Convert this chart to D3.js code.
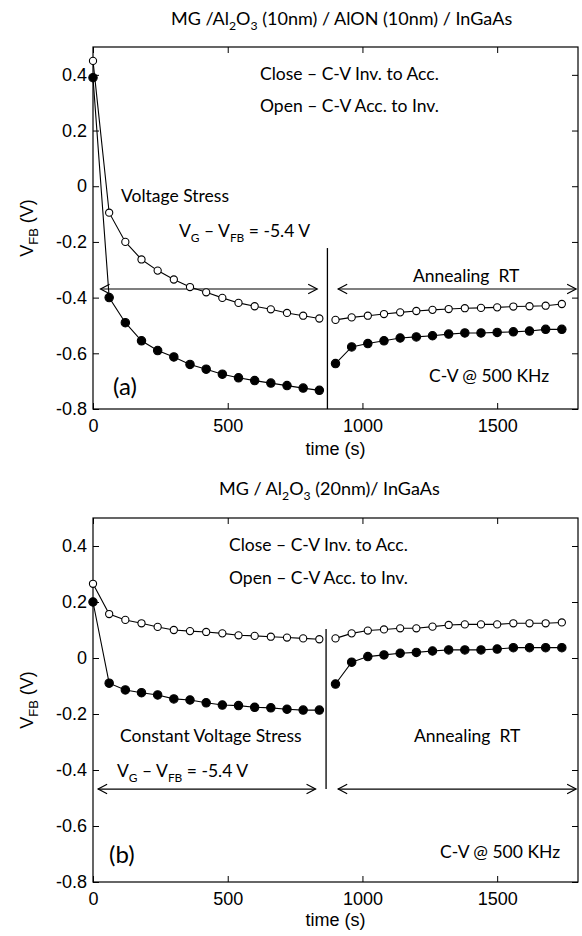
<!DOCTYPE html>
<html>
<head>
<meta charset="utf-8">
<script src="https://cdn.jsdelivr.net/npm/d3@7"></script>
<style>
body { margin: 0; background: #fff; }
svg { display: block; }
.tick text { font-family: "Liberation Sans", Arial, sans-serif; font-size: 18px; fill: #000; }
.note { font-family: Lato, "Open Sans", sans-serif; font-size: 17.5px; fill: #000; white-space: pre; }
.axlabel { font-family: "Liberation Sans", Arial, sans-serif; font-size: 18px; fill: #000; white-space: pre; }
</style>
</head>
<body>
<div id="chart"></div>
<script>
// time axis (s) for the stress and the annealing phase
var stressTime = [0, 60, 120, 180, 240, 300, 360, 420, 480, 540, 600, 660, 720, 780, 840];
var annealTime = [900, 960, 1020, 1080, 1140, 1200, 1260, 1320, 1380, 1440, 1500, 1560, 1620, 1680, 1740];

// (a) MG/Al2O3/AlON/InGaAs
var aOpenStress   = [0.45, -0.095, -0.20, -0.263, -0.303, -0.335, -0.362, -0.381, -0.401, -0.419, -0.431, -0.442, -0.455, -0.465, -0.475];
var aFilledStress = [0.39, -0.40, -0.49, -0.555, -0.59, -0.613, -0.64, -0.657, -0.675, -0.688, -0.698, -0.707, -0.716, -0.725, -0.733];
var aOpenAnneal   = [-0.48, -0.471, -0.465, -0.459, -0.453, -0.448, -0.444, -0.441, -0.438, -0.437, -0.435, -0.432, -0.431, -0.429, -0.423];
var aFilledAnneal = [-0.637, -0.577, -0.565, -0.555, -0.545, -0.541, -0.537, -0.531, -0.527, -0.527, -0.525, -0.523, -0.520, -0.514, -0.514];

// (b) MG/Al2O3/InGaAs
var bOpenStress   = [0.265, 0.157, 0.136, 0.124, 0.111, 0.10, 0.096, 0.093, 0.088, 0.081, 0.079, 0.076, 0.073, 0.07, 0.067];
var bFilledStress = [0.20, -0.09, -0.114, -0.124, -0.132, -0.146, -0.15, -0.16, -0.168, -0.17, -0.176, -0.178, -0.183, -0.186, -0.186];
var bOpenAnneal   = [0.07, 0.088, 0.098, 0.102, 0.106, 0.106, 0.112, 0.118, 0.12, 0.12, 0.12, 0.124, 0.124, 0.124, 0.127];
var bFilledAnneal = [-0.093, -0.015, 0.005, 0.011, 0.017, 0.02, 0.025, 0.029, 0.029, 0.029, 0.032, 0.037, 0.037, 0.037, 0.037];

var xTicks = [0, 500, 1000, 1500];
var yTicks = [-0.8, -0.6, -0.4, -0.2, 0, 0.2, 0.4];
var xDomain = [0, 1800];
var yDomain = [-0.8, 0.5];

var svgWidth = 582;
var svgHeight = 936;
var plotLeft = 93;
var plotRight = 578;

var svg = d3.select("#chart").append("svg")
    .attr("width", svgWidth)
    .attr("height", svgHeight);

// text with sub-script pieces: plain strings, or [string] for subscript
function richText(g, x, y, parts, cls, size) {
    var t = g.append("text").attr("x", x).attr("y", y).attr("class", cls)
        .style("font-size", size + "px");
    var shift = 0;
    parts.forEach(function(p) {
        var sub = Array.isArray(p);
        var target = sub ? size * 0.28 : 0;
        t.append("tspan")
            .attr("dy", target - shift)
            .style("font-size", sub ? (size * 0.68) + "px" : null)
            .text(sub ? p[0] : p);
        shift = target;
    });
    return t;
}

function drawPanel(p) {
    var x = d3.scaleLinear().domain(xDomain).range([plotLeft, plotRight]);
    var y = d3.scaleLinear().domain(yDomain).range([p.bottom, p.top]);
    var g = svg.append("g");

    // axes, MATLAB style with inward ticks on all four sides
    var fmt = function(d) { return d === 0 ? "0" : d.toFixed(1); };
    g.append("g").attr("transform", `translate(0, ${p.bottom})`)
        .call(d3.axisBottom(x).tickValues(xTicks).tickSize(-6).tickPadding(10).tickFormat(d3.format("d")));
    g.append("g").attr("transform", `translate(0, ${p.top})`)
        .call(d3.axisTop(x).tickValues(xTicks).tickSize(-6).tickFormat(""));
    g.append("g").attr("transform", `translate(${plotLeft}, 0)`)
        .call(d3.axisLeft(y).tickValues(yTicks).tickSize(-6).tickPadding(6).tickFormat(fmt));
    g.append("g").attr("transform", `translate(${plotRight}, 0)`)
        .call(d3.axisRight(y).tickValues(yTicks).tickSize(-6).tickFormat(""));
    g.selectAll(".domain").remove();
    g.selectAll(".tick line").attr("stroke", "#000");

    g.append("rect")
        .attr("x", plotLeft).attr("y", p.top)
        .attr("width", plotRight - plotLeft).attr("height", p.bottom - p.top)
        .attr("fill", "none").attr("stroke", "#000").attr("stroke-width", 1.2);

    // divider between stress and annealing
    g.append("line")
        .attr("x1", x(p.divider.t)).attr("x2", x(p.divider.t))
        .attr("y1", y(p.divider.v0)).attr("y2", y(p.divider.v1))
        .attr("stroke", "#000").attr("stroke-width", 1.3);

    // double arrows
    p.arrows.forEach(function(a) {
        var x0 = x(a.t0), x1 = x(a.t1), yy = y(a.v);
        g.append("line").attr("x1", x0).attr("x2", x1).attr("y1", yy).attr("y2", yy)
            .attr("stroke", "#000").attr("stroke-width", 1.2);
        g.append("path")
            .attr("d", `M${x0 + 9},${yy - 4.7}L${x0},${yy}L${x0 + 9},${yy + 4.7}M${x1 - 9},${yy - 4.7}L${x1},${yy}L${x1 - 9},${yy + 4.7}`)
            .attr("fill", "none").attr("stroke", "#000").attr("stroke-width", 1.2);
    });

    var line = d3.line().x(d => x(d[0])).y(d => y(d[1]));

    p.series.forEach(function(s) {
        var pts = s.time.map((t, i) => [t, s.values[i]]);
        g.append("path").datum(pts)
            .attr("d", line)
            .attr("fill", "none").attr("stroke", "#000").attr("stroke-width", 1.1);
        g.selectAll(null).data(pts).enter().append("circle")
            .attr("cx", d => x(d[0]))
            .attr("cy", d => y(d[1]))
            .attr("r", s.filled ? 4.2 : 3.6)
            .attr("fill", s.filled ? "#000" : "#fff")
            .attr("stroke", "#000").attr("stroke-width", 1.1);
    });

    // titles and notes
    richText(g, p.titleX, p.titleY, p.title, "note", 18);
    p.notes.forEach(function(n) {
        richText(g, n.x, n.y, n.parts, "note", n.size || 17.5);
    });

    // axis labels
    g.append("text").attr("class", "axlabel")
        .attr("x", (plotLeft + plotRight) / 2).attr("y", p.xLabelY)
        .attr("text-anchor", "middle").text("time (s)");
    var yl = g.append("text").attr("class", "axlabel")
        .attr("text-anchor", "middle")
        .attr("transform", `translate(33, ${(p.top + p.bottom) / 2}) rotate(-90)`);
    yl.append("tspan").text("V");
    yl.append("tspan").attr("dy", 5).style("font-size", "13px").text("FB");
    yl.append("tspan").attr("dy", -5).text(" (V)");
}

drawPanel({
    top: 47, bottom: 409, xLabelY: 455,
    titleX: 171, titleY: 25,
    title: ["MG /Al", ["2"], "O", ["3"], " (10nm) / AlON (10nm) / InGaAs"],
    series: [
        {time: stressTime, values: aOpenStress, filled: false},
        {time: stressTime, values: aFilledStress, filled: true},
        {time: annealTime, values: aOpenAnneal, filled: false},
        {time: annealTime, values: aFilledAnneal, filled: true}
    ],
    divider: {t: 870, v0: -0.222, v1: -0.8},
    arrows: [{t0: 28, t1: 832, v: -0.369}, {t0: 910, t1: 1793, v: -0.369}],
    notes: [
        {x: 260, y: 80, parts: ["Close – C-V Inv. to Acc."]},
        {x: 260, y: 112, parts: ["Open – C-V Acc. to Inv."]},
        {x: 121, y: 202, parts: ["Voltage Stress"]},
        {x: 179, y: 237, parts: ["V", ["G"], " – V", ["FB"], " = -5.4 V"]},
        {x: 413, y: 282, parts: ["Annealing  RT"]},
        {x: 429, y: 382, parts: ["C-V @ 500 KHz"]},
        {x: 113, y: 395, parts: ["(a)"], size: 24}
    ]
});

drawPanel({
    top: 518, bottom: 882, xLabelY: 926,
    titleX: 219, titleY: 495,
    title: ["MG / Al", ["2"], "O", ["3"], " (20nm)/ InGaAs"],
    series: [
        {time: stressTime, values: bOpenStress, filled: false},
        {time: stressTime, values: bFilledStress, filled: true},
        {time: annealTime, values: bOpenAnneal, filled: false},
        {time: annealTime, values: bFilledAnneal, filled: true}
    ],
    divider: {t: 865, v0: 0.104, v1: -0.468},
    arrows: [{t0: 19, t1: 826, v: -0.468}, {t0: 910, t1: 1793, v: -0.468}],
    notes: [
        {x: 229, y: 551, parts: ["Close – C-V Inv. to Acc."]},
        {x: 229, y: 584, parts: ["Open – C-V Acc. to Inv."]},
        {x: 120, y: 742, parts: ["Constant Voltage Stress"]},
        {x: 414, y: 742, parts: ["Annealing  RT"]},
        {x: 117, y: 777, parts: ["V", ["G"], " – V", ["FB"], " = -5.4 V"]},
        {x: 440, y: 858, parts: ["C-V @ 500 KHz"]},
        {x: 109, y: 863, parts: ["(b)"], size: 24}
    ]
});
</script>
</body>
</html>
